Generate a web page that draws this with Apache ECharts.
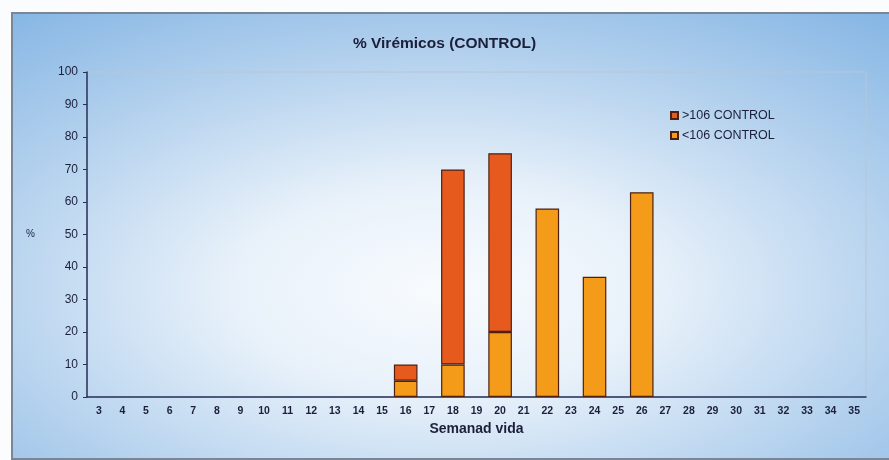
<!DOCTYPE html>
<html><head><meta charset="utf-8">
<script src="https://cdn.jsdelivr.net/npm/echarts@6/dist/echarts.min.js"></script>
<style>html,body{margin:0;padding:0;background:#fbfcfd;}#c{width:889px;height:460px;}</style>
</head><body><div id="c"></div>
<script>
const weeks = ['3','4','5','6','7','8','9','10','11','12','13','14','15','16','17','18','19','20','21','22','23','24','25','26','27','28','29','30','31','32','33','34','35'];
const valuesBelow = {16:5, 18:10, 20:20, 22:58, 24:37, 26:63};
const valuesAbove = {16:5, 18:60, 20:55};
const seriesNames = ['>106 CONTROL', '<106 CONTROL'];
const titleText = '% Virémicos (CONTROL)';
const xName = 'Semanad vida';
const yName = '%';

const below = weeks.map(w => valuesBelow[w] !== undefined ? valuesBelow[w] : null);
const above = weeks.map(w => valuesAbove[w] !== undefined ? valuesAbove[w] : null);

const chart = echarts.init(document.getElementById('c'));
const txt = '#1c1f3a';
chart.setOption({
  animation: false,
  graphic: [
    {type:'rect', z:-10, x:12, y:13, scaleX:2, shape:{x:0,y:0,width:440,height:446},
     style:{fill:{type:'radial', x:0.49, y:0.62, r:0.8, colorStops:[
       {offset:0,color:'#f8fbfe'},{offset:0.3,color:'#e8f1fa'},{offset:0.65,color:'#b5d2ee'},{offset:1,color:'#86b6e4'}]}}},
    {type:'rect', z:-9, shape:{x:12,y:13,width:900,height:446}, style:{fill:'none', stroke:'#7a8696', lineWidth:2}}
  ],
  title: {text:titleText, left:'center', top:31, textStyle:{fontFamily:'Liberation Sans', fontWeight:'bold', fontSize:15.5, color:txt}},
  legend: {
    data: seriesNames, orient:'vertical', left:665, top:104, itemWidth:7, itemHeight:7, itemGap:7, icon:'rect',
    textStyle:{fontFamily:'Liberation Sans', fontSize:12.5, color:txt, padding:[0,0,0,-1]}
  },
  grid: {left:87, right:23, top:72, bottom:63, show:true, borderColor:'#b9c6d6', borderWidth:1, backgroundColor:'transparent'},
  xAxis: {
    type:'category', data:weeks, name:xName, nameLocation:'middle', nameGap:21,
    nameTextStyle:{fontFamily:'Liberation Sans', fontWeight:'bold', fontSize:14, color:txt},
    axisLine:{lineStyle:{color:'#26305a', width:1.5}},
    axisTick:{alignWithLabel:false, length:3, lineStyle:{color:'#26305a'}},
    axisLabel:{fontFamily:'Liberation Sans', fontWeight:'bold', fontSize:10.5, color:txt, margin:9, interval:0}
  },
  yAxis: {
    type:'value', min:0, max:100, interval:10, name:yName, nameLocation:'middle', nameGap:52, nameRotate:0,
    nameTextStyle:{fontFamily:'Liberation Sans', fontSize:10, color:txt},
    axisLine:{show:true, lineStyle:{color:'#26305a', width:1.5}},
    axisTick:{show:true, length:4, lineStyle:{color:'#26305a'}},
    splitLine:{show:false},
    axisLabel:{fontFamily:'Liberation Sans', fontSize:12, color:txt, margin:9}
  },
  series: [
    {name:seriesNames[1], type:'bar', stack:'a', data:below, barCategoryGap:'0%',
     itemStyle:{color:'#f49c1a', borderColor:'#4e2012', borderWidth:1.2}},
    {name:seriesNames[0], type:'bar', stack:'a', data:above, barCategoryGap:'0%',
     itemStyle:{color:'#e65a1e', borderColor:'#4e2012', borderWidth:1.2}}
  ]
});
</script></body></html>
